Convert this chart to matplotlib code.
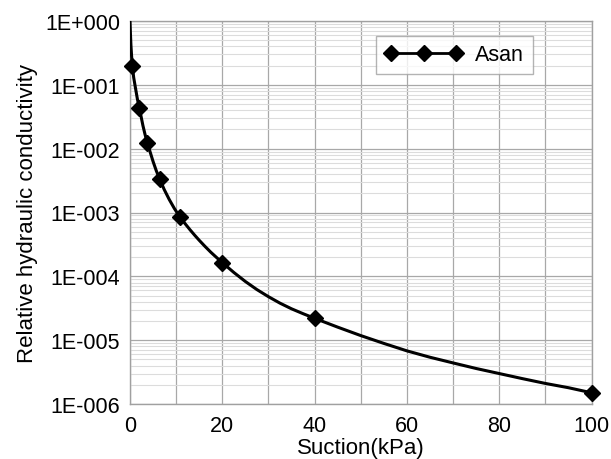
import matplotlib
matplotlib.use("Agg")
import matplotlib.pyplot as plt
from matplotlib.ticker import LogLocator, FixedLocator, NullFormatter
from matplotlib.lines import Line2D

plt.rcParams['font.family'] = ['Liberation Sans', 'DejaVu Sans']

# Measured points (markers)
suction_pts = [0.5, 2.0, 3.75, 6.4, 10.8, 20.0, 40.0, 100.0]
k_pts = [0.20, 0.044, 0.0124, 0.0034, 0.00085, 0.000164, 0.000022, 0.0000015]

# Fitted curve, values
curve_x = [0.0, 0.05, 0.1, 0.2, 0.35, 0.5, 0.8, 1.2, 1.6, 2.0, 2.4, 2.8, 3.25, 3.75,
           4.4, 5.0, 5.7, 6.4, 7.4, 8.5, 9.6, 10.8, 12.0, 13.0, 14.0, 15.0, 16.2,
           17.5, 18.7, 20.0, 22.5, 25.0, 27.5, 30.0, 32.5, 35.0, 37.5, 40.0, 45.0,
           50.0, 55.0, 60.0, 65.0, 70.0, 75.0, 80.0, 85.0, 90.0, 95.0, 100.0]
curve_y = [1.0, 0.78, 0.62, 0.42, 0.28, 0.20, 0.13, 0.088, 0.060, 0.044, 0.032,
           0.023, 0.0168, 0.0124, 0.0087, 0.0063, 0.0045, 0.0034, 0.0023, 0.0016,
           0.00116, 0.00085, 0.00066, 0.000537, 0.000442, 0.000367, 0.000297,
           0.000239, 0.000199, 0.000164, 0.000115, 0.000083, 0.000062, 0.000048,
           0.000038, 0.000031, 0.000026, 0.000022, 0.0000160, 0.0000118,
           0.0000089, 0.0000068, 0.0000054, 0.0000044, 0.0000036, 0.0000030,
           0.0000025, 0.0000021, 0.0000018, 0.0000015]

x_ticks = [0, 20, 40, 60, 80, 100]
y_ticks = [1e-6, 1e-5, 1e-4, 1e-3, 1e-2, 1e-1, 1e0]
y_labels = ['1E-006', '1E-005', '1E-004', '1E-003', '1E-002', '1E-001', '1E+000']
series_name = 'Asan'

fig = plt.figure(figsize=(6.11, 4.60), dpi=100)
ax = fig.add_axes([130/611, 55/460, 461.5/611, 383/460])

ax.set_yscale('log')
ax.set_xlim(0, 100)
ax.set_ylim(1e-6, 1.0)

ax.xaxis.set_major_locator(FixedLocator(x_ticks))
ax.xaxis.set_minor_locator(FixedLocator(list(range(0, 101, 10))))
ax.yaxis.set_major_locator(FixedLocator(y_ticks))
ax.yaxis.set_minor_locator(LogLocator(base=10, subs=range(2, 10), numticks=20))
ax.yaxis.set_minor_formatter(NullFormatter())
ax.set_yticklabels(y_labels)

ax.grid(which='minor', axis='y', color='#dcdcdc', linewidth=0.8)
ax.grid(which='major', axis='y', color='#a8a8a8', linewidth=0.9)
ax.grid(which='minor', axis='x', color='#a8a8a8', linewidth=0.9)
ax.grid(which='major', axis='x', color='#a8a8a8', linewidth=0.9)
ax.set_axisbelow(True)

for s in ax.spines.values():
    s.set_color('#a0a0a0')
    s.set_linewidth(1.0)

ax.tick_params(which='both', length=0, labelsize=15.5, colors='black', pad=7)
ax.tick_params(axis='x', pad=8)

ax.plot(curve_x, curve_y, color='black', linewidth=2.2, zorder=3,
        solid_joinstyle='round')
ax.plot(suction_pts, k_pts, linestyle='none', marker='D', markersize=8,
        color='black', zorder=4, clip_on=False)

h = Line2D([], [], color='black', linewidth=2.0, marker='D', markersize=8)
leg = ax.legend([h], [series_name], loc='upper right', bbox_to_anchor=(0.873, 0.962),
                numpoints=3, handlelength=3.6, fontsize=15.5, frameon=True,
                fancybox=False, borderpad=0.4, handletextpad=0.6, borderaxespad=0)
leg.get_frame().set_edgecolor('#a0a0a0')
leg.get_frame().set_linewidth(1.0)

ax.set_xlabel('Suction(kPa)', fontsize=16, labelpad=1)
ax.set_ylabel('Relative hydraulic conductivity', fontsize=16, labelpad=5)

fig.savefig('out.png', dpi=100)
